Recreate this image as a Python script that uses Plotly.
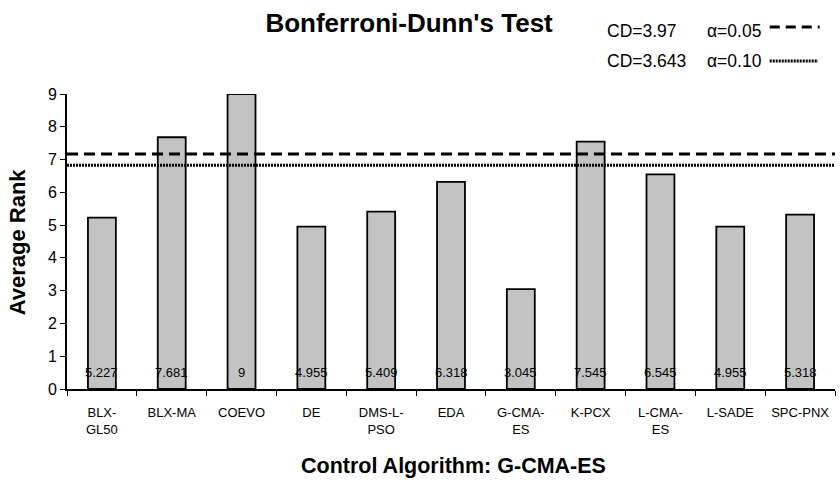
import plotly.graph_objects as go

categories = ["BLX-<br>GL50", "BLX-MA", "COEVO", "DE", "DMS-L-<br>PSO", "EDA",
              "G-CMA-<br>ES", "K-PCX", "L-CMA-<br>ES", "L-SADE", "SPC-PNX"]
ranks = [5.227, 7.681, 9, 4.955, 5.409, 6.318, 3.045, 7.545, 6.545, 4.955, 5.318]
rank_labels = ["5.227", "7.681", "9", "4.955", "5.409", "6.318", "3.045", "7.545", "6.545", "4.955", "5.318"]
cd_005 = 7.17
cd_010 = 6.83
label_y = 0.5

FONT = "Liberation Sans, Arial, sans-serif"

fig = go.Figure()
fig.add_trace(go.Bar(
    x=categories, y=ranks, width=0.4,
    marker=dict(color="#c3c3c3", line=dict(color="black", width=1.8)),
    showlegend=False, hoverinfo="skip"))

for c, t in zip(categories, rank_labels):
    fig.add_annotation(x=c, y=label_y, text=t, showarrow=False,
                       font=dict(family=FONT, size=13, color="black"))

fig.add_shape(type="line", xref="paper", yref="y", x0=0, x1=1, y0=cd_005, y1=cd_005,
              line=dict(color="black", width=3, dash="11px,6px"))
fig.add_shape(type="line", xref="paper", yref="y", x0=0, x1=1, y0=cd_010, y1=cd_010,
              line=dict(color="black", width=3, dash="2px,1px"))

# legend-like key (top right)
key_font = dict(family=FONT, size=17.5, color="black")
fig.add_annotation(xref="paper", yref="paper", x=0.701, y=1.213, xanchor="left", yanchor="middle",
                   text="CD=3.97", showarrow=False, font=key_font)
fig.add_annotation(xref="paper", yref="paper", x=0.831, y=1.213, xanchor="left", yanchor="middle",
                   text="α=0.05", showarrow=False, font=key_font)
fig.add_annotation(xref="paper", yref="paper", x=0.701, y=1.112, xanchor="left", yanchor="middle",
                   text="CD=3.643", showarrow=False, font=key_font)
fig.add_annotation(xref="paper", yref="paper", x=0.831, y=1.112, xanchor="left", yanchor="middle",
                   text="α=0.10", showarrow=False, font=key_font)
fig.add_shape(type="line", xref="paper", yref="paper", x0=0.915, x1=0.98, y0=1.227, y1=1.227,
              line=dict(color="black", width=3, dash="10px,6px"))
fig.add_shape(type="line", xref="paper", yref="paper", x0=0.915, x1=0.978, y0=1.112, y1=1.112,
              line=dict(color="black", width=3, dash="2px,1px"))

# axis titles as annotations
fig.add_annotation(xref="paper", yref="paper", x=0.503, y=-0.261, xanchor="center", yanchor="middle",
                   text="<b>Control Algorithm: G-CMA-ES</b>", showarrow=False,
                   font=dict(family=FONT, size=21.5, color="black"))
fig.add_annotation(xref="paper", yref="paper", x=-0.064, y=0.5, xanchor="center", yanchor="middle",
                   text="<b>Average Rank</b>", showarrow=False, textangle=-90,
                   font=dict(family=FONT, size=22, color="black"))

fig.update_layout(
    width=840, height=480,
    margin=dict(l=67, r=5, t=94, b=91, autoexpand=False),
    paper_bgcolor="white", plot_bgcolor="white",
    font=dict(family=FONT, size=12, color="black"),
    title=dict(text="<b>Bonferroni-Dunn's Test</b>", x=0.487, xanchor="center",
               yref="container", y=0.953, yanchor="middle",
               font=dict(family=FONT, size=26, color="black")),
    bargap=0.6,
)
fig.update_xaxes(showline=True, linecolor="black", linewidth=2, ticks="outside", tickson="boundaries",
                 ticklen=5, tickcolor="black", tickangle=0, showgrid=False, ticklabelstandoff=10,
                 tickfont=dict(family=FONT, size=13, color="black"))
fig.update_yaxes(range=[0, 9], dtick=1, showline=True, linecolor="black", linewidth=2,
                 ticks="outside", ticklen=5, tickcolor="black", showgrid=False, zeroline=False,
                 tickfont=dict(family=FONT, size=16, color="black"))

fig.write_html("out.html", config={"displayModeBar": False},
               post_script="document.body.style.margin='0';")
